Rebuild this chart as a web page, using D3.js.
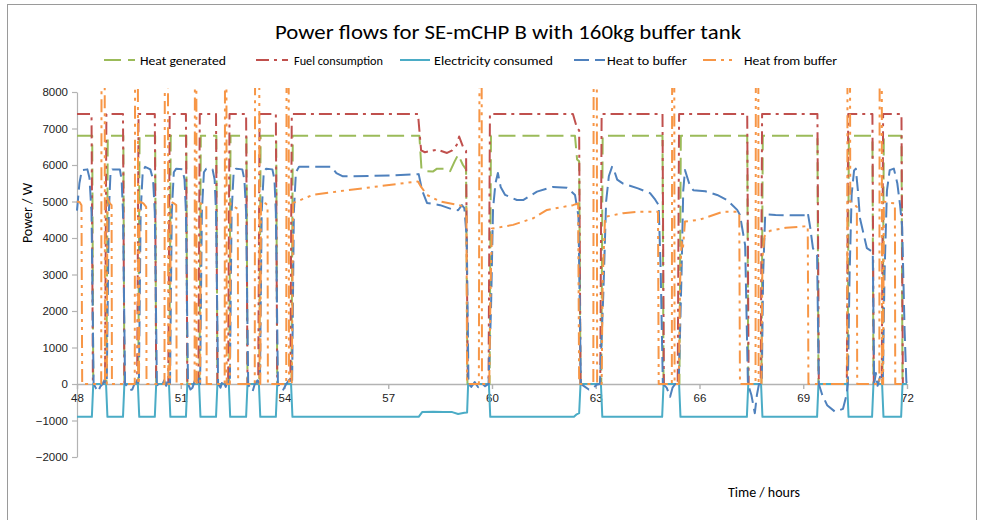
<!DOCTYPE html>
<html><head><meta charset="utf-8">
<script src="https://cdn.jsdelivr.net/npm/d3@7"></script>
<style>
html,body{margin:0;padding:0;background:#fff;}
svg{display:block;font-family:Carlito,"Liberation Sans Narrow","Liberation Sans",Arial,sans-serif;}
</style></head><body>
<svg id="chart" width="984" height="520"></svg>
<script>
// ---- data: [time in hours, power in W] ----
const heatGenerated = [
[48.00,6800],[48.44,6800],[48.47,0],
[48.85,0],[48.89,6800],[49.34,6800],[49.37,0],
[49.77,0],[49.81,6800],[50.26,6800],[50.29,0],
[50.67,0],[50.71,6800],[51.16,6800],[51.19,0],
[51.54,0],[51.58,6800],[52.03,6800],[52.06,0],
[52.40,0],[52.44,6800],[52.90,6800],[52.93,0],
[53.27,0],[53.31,6800],[53.76,6800],[53.79,0],
[54.20,0],[54.24,6800],[57.90,6800],[57.96,5900],[58.06,5830],[58.29,5820],[58.41,5900],[58.70,5900],[58.79,5830],[58.92,6100],[59.02,6280],[59.16,6000],[59.25,5880],[59.29,0],
[59.93,0],[59.97,6800],[62.40,6800],[62.46,6150],[62.52,6100],[62.56,0],
[63.16,0],[63.20,6800],[64.93,6800],[64.96,0],
[65.42,0],[65.46,6800],[67.38,6800],[67.41,0],
[67.79,0],[67.83,6800],[69.41,6800],[69.44,0],
[70.28,0],[70.32,6800],[71.00,6800],[71.03,0],
[71.29,0],[71.33,6800],[71.84,6800],[71.87,0],[72.00,0]
];
const fuelConsumption = [
[48.00,7400],[48.42,7400],[48.46,0],
[48.81,0],[48.85,7400],[49.33,7400],[49.37,0],
[49.74,0],[49.78,7400],[50.25,7400],[50.29,0],
[50.64,0],[50.68,7400],[51.15,7400],[51.19,0],
[51.51,0],[51.55,7400],[52.02,7400],[52.06,0],
[52.37,0],[52.41,7400],[52.89,7400],[52.93,0],
[53.24,0],[53.28,7400],[53.75,7400],[53.79,0],
[54.17,0],[54.21,7400],[57.86,7400],[57.95,6400],[58.06,6350],[58.29,6400],[58.41,6420],[58.70,6330],[58.85,6400],[58.98,6550],[59.05,6780],[59.16,6500],[59.25,6400],[59.30,0],
[59.90,0],[59.94,7400],[62.34,7400],[62.46,7000],[62.52,6950],[62.56,0],
[63.13,0],[63.17,7400],[64.93,7400],[64.97,0],
[65.37,0],[65.41,7400],[67.38,7400],[67.42,0],
[67.77,0],[67.81,7400],[69.41,7400],[69.45,0],
[70.26,0],[70.30,7400],[71.00,7400],[71.04,0],
[71.27,0],[71.31,7400],[71.84,7400],[71.88,0],[72.00,0]
];
const electricityConsumed = [
[48.00,-900],[48.43,-900],[48.47,0],
[48.84,0],[48.88,-900],[49.33,-900],[49.37,0],
[49.76,0],[49.80,-900],[50.25,-900],[50.29,0],
[50.66,0],[50.70,-900],[51.15,-900],[51.19,0],
[51.53,0],[51.57,-900],[52.02,-900],[52.06,0],
[52.39,0],[52.43,-900],[52.89,-900],[52.93,0],
[53.26,0],[53.30,-900],[53.75,-900],[53.79,0],
[54.19,0],[54.23,-900],[57.88,-900],[57.98,-770],[58.30,-760],[58.60,-765],[58.85,-770],[59.02,-820],[59.20,-790],[59.28,-780],[59.31,0],
[59.91,0],[59.95,-900],[62.37,-900],[62.45,-830],[62.52,-800],[62.56,0],
[63.15,0],[63.19,-900],[64.92,-900],[64.96,0],
[65.41,0],[65.45,-900],[67.37,-900],[67.41,0],
[67.78,0],[67.82,-900],[69.40,-900],[69.44,0],
[70.27,0],[70.31,-900],[70.99,-900],[71.03,0],
[71.28,0],[71.32,-900],[71.83,-900],[71.87,0],[72.00,0]
];
const heatToBuffer = [
[48.00,4750],[48.07,5500],[48.14,5860],[48.30,5880],[48.36,5650],[48.42,4700],[48.48,0],[48.55,-120],[48.61,-210],[48.68,-60],[48.74,0],[48.80,120],[48.86,0],
[48.92,4700],[48.97,5800],[49.02,5880],[49.24,5880],[49.29,5600],[49.33,4700],[49.39,0],[49.45,-60],[49.52,-170],[49.60,-150],[49.66,0],[49.74,80],[49.79,0],
[49.84,4700],[49.90,5800],[49.97,5950],[50.12,5880],[50.20,5600],[50.25,4700],[50.31,0],[50.38,-80],[50.45,-60],[50.52,100],[50.58,-50],[50.64,150],[50.69,0],
[50.74,4700],[50.80,5800],[50.87,5900],[51.05,5880],[51.11,5600],[51.15,4700],[51.21,0],[51.28,-150],[51.34,-100],[51.40,80],[51.46,0],[51.52,150],[51.56,0],
[51.61,4700],[51.67,5800],[51.74,5900],[51.92,5880],[51.98,5600],[52.02,4700],[52.08,0],[52.15,-100],[52.22,120],[52.30,-80],[52.36,100],[52.42,0],
[52.47,4700],[52.53,5800],[52.60,5900],[52.78,5880],[52.84,5600],[52.89,4700],[52.95,0],[53.02,-150],[53.08,-200],[53.14,0],[53.22,100],[53.29,0],
[53.34,4700],[53.40,5800],[53.47,5900],[53.65,5880],[53.71,5600],[53.75,4700],[53.81,0],[53.88,-100],[53.95,-180],[54.05,0],[54.14,120],[54.22,0],
[54.27,4700],[54.33,5800],[54.42,5950],[55.35,5950],[55.50,5780],[55.69,5690],[56.50,5700],[57.20,5720],[57.88,5750],[57.98,5300],[58.12,4960],[58.50,4900],[58.87,4780],[59.02,4760],[59.13,4900],[59.20,4820],[59.27,4000],[59.32,0],
[59.40,-80],[59.50,50],[59.60,-90],[59.70,30],[59.80,-60],[59.90,0],
[59.97,2000],[60.03,4800],[60.10,5500],[60.17,5780],[60.25,5400],[60.38,5180],[60.72,5040],[60.90,5040],[61.30,5270],[61.76,5400],[62.17,5380],[62.40,5180],[62.50,4600],[62.57,0],
[62.65,-50],[62.80,-150],[62.92,-130],[63.02,-20],[63.12,0],
[63.22,2500],[63.30,5000],[63.38,5700],[63.47,5950],[63.55,5800],[63.62,5600],[63.79,5490],[64.22,5360],[64.57,5230],[64.72,5050],[64.82,4900],[64.88,3000],[64.94,0],[65.05,-100],[65.15,-350],[65.22,-100],[65.30,0],[65.40,0],
[65.48,3000],[65.53,5300],[65.58,5860],[65.70,5500],[65.82,5310],[66.17,5280],[66.51,5180],[66.80,5040],[67.09,4770],[67.17,4630],[67.32,3800],[67.40,0],[67.50,-300],[67.60,-800],[67.66,-300],[67.72,0],[67.80,0],
[67.84,3000],[67.90,4650],[68.20,4630],[68.80,4620],[69.05,4620],[69.13,4700],[69.20,4300],[69.28,3720],[69.40,3530],[69.45,0],[69.55,-300],[69.69,-580],[69.92,-760],[70.15,-680],[70.25,-300],[70.29,0],
[70.34,3000],[70.40,5200],[70.47,5850],[70.52,5900],[70.58,5300],[70.64,4540],[70.84,3720],[71.01,3620],[71.05,0],[71.10,300],[71.15,-50],[71.22,200],[71.30,0],
[71.35,3000],[71.42,5300],[71.50,5860],[71.62,5900],[71.72,5500],[71.80,4900],[71.86,4300],[71.93,1500],[71.98,100],[72.00,-100]
];
const heatFromBuffer = [
[48.00,5000],[48.08,4980],[48.13,4900],[48.15,0],
[48.70,0],[48.71,9500],[48.80,9500],[48.81,0],[48.86,0],[48.88,5100],[48.95,4950],[49.00,4900],[49.01,0],
[49.67,0],[49.68,9500],[49.76,9500],[49.77,0],[49.79,0],[49.81,5000],[49.92,4950],[50.00,4850],[50.01,0],
[50.53,0],[50.54,9500],[50.63,9500],[50.64,0],[50.69,0],[50.71,5000],[50.80,4950],[50.87,4900],[50.88,0],
[51.40,0],[51.41,9500],[51.45,9500],[51.46,0],[51.56,0],[51.58,4950],[51.68,4900],[51.74,4880],[51.75,0],
[52.27,0],[52.28,9500],[52.32,9500],[52.33,0],[52.42,0],[52.44,4950],[52.55,4850],[52.65,4800],[52.66,0],
[53.14,0],[53.15,9500],[53.27,9500],[53.28,0],[53.30,0],[53.32,5000],[53.45,4950],[53.51,4900],[53.52,0],
[54.05,0],[54.06,9500],[54.12,9500],[54.13,0],[54.21,0],[54.25,4960],[54.82,5180],[55.81,5310],[56.76,5420],[57.86,5550],[57.95,5400],[58.12,5180],[58.50,5000],[59.13,4880],[59.26,4850],[59.28,0],
[59.62,0],[59.64,9500],[59.70,9500],[59.71,0],[59.92,0],[59.96,2700],[60.00,4260],[60.09,4270],[60.61,4360],[61.19,4540],[61.59,4770],[62.34,4900],[62.49,4950],[62.52,0],
[62.93,0],[62.94,9500],[63.03,9500],[63.04,0],[63.17,0],[63.20,2850],[63.27,4580],[63.79,4680],[64.28,4720],[64.80,4720],[64.82,0],
[65.20,0],[65.21,9500],[65.27,9500],[65.28,0],[65.40,0],[65.44,2800],[65.48,3900],[65.52,3700],[65.58,4450],[66.00,4500],[66.68,4720],[67.09,4720],[67.15,4700],[67.17,0],
[67.62,0],[67.63,9500],[67.70,9500],[67.71,0],[67.79,0],[67.82,3450],[67.88,4050],[68.04,4200],[68.50,4280],[69.05,4320],[69.13,4330],[69.15,0],
[70.27,0],[70.28,9500],[70.35,9500],[70.36,5000],[70.50,4900],[70.55,4850],[70.56,0],
[71.20,0],[71.21,9500],[71.27,9500],[71.28,0],[71.31,0],[71.33,5000],[71.50,4960],[71.65,4950],[71.66,0],[72.00,0]
];
const seriesNames = ["Heat generated","Fuel consumption","Electricity consumed","Heat to buffer","Heat from buffer"];
const xTicks = [48,51,54,57,60,63,66,69,72];
const yTicks = [-2000,-1000,0,1000,2000,3000,4000,5000,6000,7000,8000];
const chartTitle = "Power flows for SE-mCHP B with 160kg buffer tank";
const yTitle = "Power / W";
const xTitle = "Time / hours";

// ---- styling ----
const styles = [
  {color:"#9BBB59", dash:"17,7"},
  {color:"#C0504D", dash:"13,5,3,5"},
  {color:"#4BACC6", dash:null},
  {color:"#4F81BD", dash:"15,6"},
  {color:"#F79646", dash:"13,5,3,5,3,5"}
];
const allSeries = [heatGenerated, fuelConsumption, electricityConsumed, heatToBuffer, heatFromBuffer];

const svg = d3.select("#chart");
const x = d3.scaleLinear().domain([48,72]).range([77,907]);
const y = d3.scaleLinear().domain([-2000,8000]).range([457,92]);

// chart frame
svg.append("rect").attr("x",7.5).attr("y",4.5).attr("width",969).attr("height",530)
  .attr("fill","none").attr("stroke","#9a9a9a").attr("stroke-width",1);

// title
svg.append("text").attr("x",508).attr("y",39).attr("text-anchor","middle")
  .attr("font-size",21).attr("fill","#000")
  .attr("textLength",466).attr("lengthAdjust","spacingAndGlyphs").text(chartTitle);

// y axis
const yAxis = svg.append("g").attr("transform","translate(77,0)")
  .call(d3.axisLeft(y).tickValues(yTicks).tickSize(5).tickSizeOuter(0).tickPadding(4).tickFormat(d3.format("d")));
yAxis.selectAll("path,line").attr("stroke","#b3b3b3").attr("stroke-width",1.2);
yAxis.selectAll("text").attr("font-size",11.5).attr("fill","#222").attr("font-family",null);

// x axis at y=0
const xAxis = svg.append("g").attr("transform",`translate(0,${y(0)})`)
  .call(d3.axisBottom(x).tickValues(xTicks).tickSize(5).tickSizeOuter(0).tickPadding(5).tickFormat(d3.format("d")));
xAxis.selectAll("path,line").attr("stroke","#b3b3b3").attr("stroke-width",1.4);
xAxis.selectAll("text").attr("font-size",11.5).attr("fill","#222").attr("font-family",null);

// axis titles
svg.append("text").attr("transform","translate(32,213) rotate(-90)").attr("text-anchor","middle")
  .attr("font-size",14).attr("fill","#000").text(yTitle);
svg.append("text").attr("x",764).attr("y",497).attr("text-anchor","middle")
  .attr("font-size",14).attr("fill","#000").text(xTitle);

// clip
svg.append("clipPath").attr("id","plotclip").append("rect")
  .attr("x",76).attr("y",88).attr("width",834).attr("height",371);

const line = d3.line().x(d=>x(d[0])).y(d=>y(d[1]));
const plot = svg.append("g").attr("clip-path","url(#plotclip)");
allSeries.forEach((data,i)=>{
  plot.append("path").datum(data).attr("d",line)
    .attr("fill","none").attr("stroke",styles[i].color).attr("stroke-width",2)
    .attr("stroke-linejoin","round")
    .attr("stroke-dasharray",styles[i].dash);
});

// legend
const legendItems = [
  {x1:104, x2:135, tx:140, tl:86},
  {x1:256, x2:288, tx:294, tl:89},
  {x1:400, x2:430, tx:434, tl:119},
  {x1:574, x2:605, tx:607, tl:80},
  {x1:703, x2:736, tx:744, tl:93}
];
const legend = svg.append("g");
legendItems.forEach((it,i)=>{
  legend.append("line").attr("x1",it.x1).attr("x2",it.x2).attr("y1",60).attr("y2",60)
    .attr("stroke",styles[i].color).attr("stroke-width",2).attr("stroke-dasharray",styles[i].dash);
  legend.append("text").attr("x",it.tx).attr("y",64.5).attr("font-size",12.5).attr("fill","#000")
    .attr("textLength",it.tl).attr("lengthAdjust","spacingAndGlyphs").text(seriesNames[i]);
});
</script>
</body></html>
